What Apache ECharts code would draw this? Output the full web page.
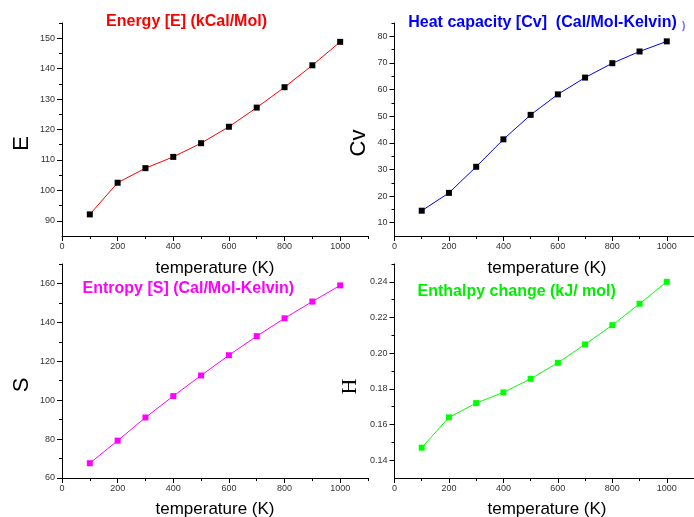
<!DOCTYPE html>
<html><head><meta charset="utf-8">
<script src="https://cdn.jsdelivr.net/npm/echarts@6/dist/echarts.min.js"></script>
<style>html,body{margin:0;padding:0;background:#fff}#c{width:694px;height:517px}</style>
</head><body><div id="c"></div>
<script>
// ---- data ----
const temperature = [100, 200, 300, 400, 500, 600, 700, 800, 900, 1000];
const energy = [92.1, 102.5, 107.3, 111.0, 115.5, 120.9, 127.2, 133.9, 141.1, 148.8];
const heatCapacity = [14.5, 21.2, 31.0, 41.3, 50.5, 58.2, 64.5, 69.9, 74.3, 78.1];
const entropy = [67.6, 79.2, 91.1, 102.1, 112.7, 123.1, 132.9, 142.1, 150.7, 159.0];
const enthalpy = [0.147, 0.164, 0.172, 0.178, 0.1856, 0.1946, 0.2049, 0.2157, 0.2277, 0.240];

// ---- tick labels ----
const xLabels = [0, 200, 400, 600, 800, 1000];
const xMinor = [100, 300, 500, 700, 900, 1100];
const eLabels = [90, 100, 110, 120, 130, 140, 150];
const eMinor = [95, 105, 115, 125, 135, 145, 155];
const cvLabels = [10, 20, 30, 40, 50, 60, 70, 80];
const cvMinor = [15, 25, 35, 45, 55, 65, 75, 85];
const sLabels = [60, 80, 100, 120, 140, 160];
const sMinor = [70, 90, 110, 130, 150, 170];
const hLabels = [0.14, 0.16, 0.18, 0.20, 0.22, 0.24];
const hMinor = [0.15, 0.17, 0.19, 0.21, 0.23, 0.25];

const FONT = '"Liberation Sans", Arial, sans-serif';
const labelStyle = { fontSize: 9, color: '#333', fontFamily: FONT };

const grids = [
  { left: 62, top: 23, width: 306, height: 213 },
  { left: 394.5, top: 23, width: 305.5, height: 213 },
  { left: 62, top: 264, width: 306, height: 214 },
  { left: 394.5, top: 264, width: 305.5, height: 214 }
];
const panels = [
  { y: energy, min: 85, max: 155, labels: eLabels, minor: eMinor, line: '#ff0000', mark: '#000000', fmt: v => String(v) },
  { y: heatCapacity, min: 5, max: 85, labels: cvLabels, minor: cvMinor, line: '#0000ff', mark: '#000000', fmt: v => String(v) },
  { y: entropy, min: 60, max: 170, labels: sLabels, minor: sMinor, line: '#ff00ff', mark: '#ff00ff', fmt: v => String(v) },
  { y: enthalpy, min: 0.13, max: 0.25, labels: hLabels, minor: hMinor, line: '#00ff00', mark: '#00ff00', fmt: v => v.toFixed(2) }
];

const xAxis = [], yAxis = [], series = [];
panels.forEach((p, i) => {
  xAxis.push({
    type: 'value', gridIndex: i, min: 0, max: 1100, position: 'bottom', offset: 0,
    axisLine: { show: true, onZero: false, lineStyle: { color: '#000', width: 1 } },
    axisTick: { show: true, length: 5, customValues: xLabels, lineStyle: { color: '#000' } },
    axisLabel: { show: true, customValues: xLabels, margin: 6, formatter: v => String(v), ...labelStyle },
    splitLine: { show: false }
  });
  xAxis.push({
    type: 'value', gridIndex: i, min: 0, max: 1100, position: 'bottom', offset: 0,
    axisLine: { show: false, onZero: false },
    axisTick: { show: true, length: 3, customValues: xMinor, lineStyle: { color: '#000' } },
    axisLabel: { show: false },
    splitLine: { show: false }
  });
  yAxis.push({
    type: 'value', gridIndex: i, min: p.min, max: p.max, position: 'left', offset: 0,
    axisLine: { show: true, onZero: false, lineStyle: { color: '#000', width: 1 } },
    axisTick: { show: true, length: 5, customValues: p.labels, lineStyle: { color: '#000' } },
    axisLabel: { show: true, customValues: p.labels, margin: 7, formatter: p.fmt, ...labelStyle },
    splitLine: { show: false }
  });
  yAxis.push({
    type: 'value', gridIndex: i, min: p.min, max: p.max, position: 'left', offset: 0,
    axisLine: { show: false, onZero: false },
    axisTick: { show: true, length: 3, customValues: p.minor, lineStyle: { color: '#000' } },
    axisLabel: { show: false },
    splitLine: { show: false }
  });
  series.push({
    type: 'line', xAxisIndex: i * 2, yAxisIndex: i * 2,
    data: temperature.map((t, k) => [t, p.y[k]]),
    symbol: 'rect', symbolSize: 6, showSymbol: true,
    lineStyle: { color: p.line, width: 1 },
    itemStyle: { color: p.mark },
    animation: false
  });
});

function txt(x, y, text, font, fill, extra) {
  return Object.assign({
    type: 'text', x: x, y: y, silent: true,
    style: { text: text, font: font, fill: fill, align: 'center', verticalAlign: 'middle' }
  }, extra || {});
}
const R = Math.PI / 2;
const graphic = [
  txt(186.5, 21.2, 'Energy [E] (kCal/Mol)', 'bold 16px ' + FONT, '#ff0000'),
  txt(542.5, 23, 'Heat capacity [Cv]  (Cal/Mol-Kelvin)', 'bold 16px ' + FONT, '#0000ff'),
  { type: 'text', x: 682, y: 26, silent: true, style: { text: ')', font: 'bold 10px ' + FONT, fill: '#6666ff', align: 'left', verticalAlign: 'middle' } },
  txt(188.3, 288.5, 'Entropy [S] (Cal/Mol-Kelvin)', 'bold 16px ' + FONT, '#ff00ff'),
  txt(516.7, 291.8, 'Enthalpy change (kJ/ mol)', 'bold 16px ' + FONT, '#00ee00'),
  txt(215, 268, 'temperature (K)', '17px ' + FONT, '#000'),
  txt(547, 268, 'temperature (K)', '17px ' + FONT, '#000'),
  txt(215, 509.3, 'temperature (K)', '17px ' + FONT, '#000'),
  txt(547, 509.3, 'temperature (K)', '17px ' + FONT, '#000'),
  txt(22, 143.3, 'E', '22px ' + FONT, '#000', { rotation: R }),
  txt(358.7, 143, 'Cv', '22px ' + FONT, '#000', { rotation: R }),
  txt(22, 385, 'S', '22px ' + FONT, '#000', { rotation: R }),
  txt(350, 386.5, 'H', '22px "Liberation Serif", "Times New Roman", serif', '#000', { rotation: R })
];

const chart = echarts.init(document.getElementById('c'), null, { renderer: 'canvas' });
chart.setOption({
  animation: false,
  backgroundColor: '#fff',
  grid: grids,
  xAxis: xAxis,
  yAxis: yAxis,
  series: series,
  graphic: graphic
});
</script></body></html>
